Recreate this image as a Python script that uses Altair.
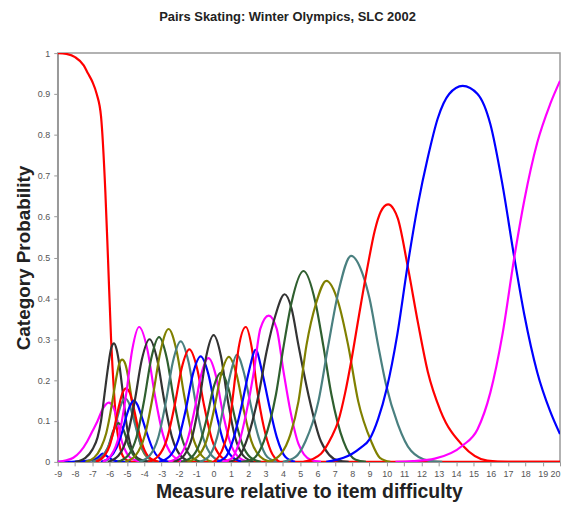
import altair as alt
import pandas as pd

TITLE = "Pairs Skating: Winter Olympics, SLC 2002"
X_TITLE = "Measure relative to item difficulty"
Y_TITLE = "Category Probability"

X_TICKS = list(range(-9, 21))
Y_TICKS = [0, 0.1, 0.2, 0.3, 0.4, 0.5, 0.6, 0.7, 0.8, 0.9, 1]

# colour cycle of the categories (category 0 = red, 1 = blue, ...)
CYCLE = ["#ff0000", "#0000ff", "#ff00ff", "#333333", "#2f5f2f", "#808000", "#4a8080"]

# category probability curves: (x values, probabilities)
c00_x = [-9, -8.5, -8, -7.5, -7.25, -7, -6.75, -6.5, -6.25, -6.1, -5.92, -5.75, -5.63, -5.45, -5.25, -5.0, -4.5, 20]
c00_y = [1.0, 0.998, 0.99, 0.97, 0.95, 0.93, 0.9, 0.845, 0.66, 0.5, 0.3, 0.17, 0.1, 0.045, 0.015, 0.004, 0.0, 0.0]
c01_x = [-9, -8, -7, -6.7, -6.4, -6.1, -5.8, -5.4, -4.8]
c01_y = [0, 0.001, 0.004, 0.01, 0.02, 0.012, 0.004, 0.001, 0]
c02_x = [-9, -8.5, -8.1, -7.7, -7.3, -7.0, -6.7, -6.4, -6.05, -5.8, -5.55, -5.3, -5.0, -4.6, -4.0]
c02_y = [0, 0.004, 0.01, 0.025, 0.05, 0.075, 0.1, 0.13, 0.145, 0.135, 0.1, 0.05, 0.02, 0.005, 0]
c03_x = [-8.0, -7.4, -7.0, -6.7, -6.5, -6.3, -6.1, -5.9, -5.75, -5.6, -5.45, -5.3, -5.1, -4.9, -4.6, -4.2, -3.6]
c03_y = [0, 0.01, 0.03, 0.06, 0.1, 0.165, 0.23, 0.28, 0.29, 0.275, 0.24, 0.19, 0.115, 0.06, 0.02, 0.005, 0]
c04_x = [-7.0, -6.5, -6.1, -5.8, -5.5, -5.2, -4.9, -4.5, -4.0]
c04_y = [0, 0.01, 0.035, 0.075, 0.095, 0.078, 0.04, 0.01, 0]
c05_x = [-7.4, -6.9, -6.5, -6.2, -6.0, -5.8, -5.6, -5.45, -5.28, -5.1, -4.9, -4.7, -4.5, -4.2, -3.8, -3.2]
c05_y = [0, 0.01, 0.035, 0.07, 0.11, 0.16, 0.21, 0.24, 0.25, 0.24, 0.2, 0.145, 0.095, 0.04, 0.01, 0]
c06_x = [-7.0, -6.5, -6.1, -5.8, -5.55, -5.3, -5.1, -4.9, -4.65, -4.4, -4.1, -3.7, -3.2]
c06_y = [0, 0.01, 0.035, 0.07, 0.11, 0.145, 0.155, 0.145, 0.11, 0.07, 0.03, 0.008, 0]
c07_x = [-6.8, -6.3, -6.0, -5.75, -5.5, -5.25, -5.05, -4.85, -4.6, -4.35, -4.05, -3.7, -3.2]
c07_y = [0, 0.015, 0.04, 0.08, 0.13, 0.17, 0.18, 0.17, 0.13, 0.08, 0.035, 0.01, 0]
c08_x = [-6.5, -6.0, -5.6, -5.3, -5.05, -4.8, -4.6, -4.4, -4.15, -3.85, -3.5, -3.1, -2.6]
c08_y = [0, 0.01, 0.035, 0.07, 0.11, 0.14, 0.15, 0.14, 0.11, 0.07, 0.03, 0.008, 0]
c09_x = [-6.4, -5.9, -5.45, -5.05, -4.7, -4.3, -3.82, -3.4, -2.92, -2.4, -1.75]
c09_y = [0, 0.017, 0.066, 0.165, 0.274, 0.33, 0.274, 0.165, 0.066, 0.017, 0]
c10_x = [-6.1, -5.5, -5.0, -4.55, -4.15, -3.7, -3.25, -2.85, -2.4, -1.9, -1.3]
c10_y = [0, 0.015, 0.06, 0.15, 0.249, 0.30, 0.249, 0.15, 0.06, 0.015, 0]
c11_x = [-5.55, -4.95, -4.45, -4.0, -3.6, -3.15, -2.7, -2.3, -1.85, -1.35, -0.75]
c11_y = [0, 0.015, 0.061, 0.153, 0.253, 0.305, 0.253, 0.153, 0.061, 0.015, 0]
c12_x = [-5.1, -4.5, -3.97, -3.5, -3.07, -2.6, -2.13, -1.7, -1.23, -0.7, -0.1]
c12_y = [0, 0.016, 0.065, 0.163, 0.27, 0.325, 0.27, 0.163, 0.065, 0.016, 0]
c13_x = [-4.3, -3.7, -3.2, -2.75, -2.35, -1.9, -1.45, -1.05, -0.6, -0.1, 0.5]
c13_y = [0, 0.015, 0.059, 0.148, 0.245, 0.295, 0.245, 0.148, 0.059, 0.015, 0]
c14_x = [-3.8, -3.2, -2.7, -2.25, -1.85, -1.4, -0.95, -0.55, -0.1, 0.4, 1.0]
c14_y = [0, 0.014, 0.055, 0.138, 0.228, 0.275, 0.228, 0.138, 0.055, 0.014, 0]
c15_x = [-3.15, -2.55, -2.05, -1.6, -1.2, -0.75, -0.3, 0.1, 0.55, 1.05, 1.65]
c15_y = [0, 0.013, 0.052, 0.129, 0.214, 0.258, 0.214, 0.129, 0.052, 0.013, 0]
c16_x = [-2.6, -2.0, -1.53, -1.1, -0.73, -0.3, 0.13, 0.5, 0.93, 1.4, 2.0]
c16_y = [0, 0.013, 0.051, 0.127, 0.211, 0.254, 0.211, 0.127, 0.051, 0.013, 0]
c17_x = [-2.3, -1.7, -1.23, -0.8, -0.43, 0.0, 0.43, 0.8, 1.23, 1.7, 2.3]
c17_y = [0, 0.016, 0.062, 0.155, 0.257, 0.31, 0.257, 0.155, 0.062, 0.016, 0]
c18_x = [-1.88, -1.28, -0.81, -0.38, -0.01, 0.42, 0.85, 1.22, 1.65, 2.12, 2.72]
c18_y = [0, 0.011, 0.044, 0.109, 0.181, 0.218, 0.181, 0.109, 0.044, 0.011, 0]
c19_x = [-1.52, -0.92, -0.42, 0.03, 0.43, 0.88, 1.33, 1.73, 2.18, 2.68, 3.28]
c19_y = [0, 0.013, 0.051, 0.129, 0.213, 0.257, 0.213, 0.129, 0.051, 0.013, 0]
c20_x = [-0.8, -0.3, 0.2, 0.6, 1.0, 1.34, 1.74, 2.14, 2.6, 3.1, 3.7]
c20_y = [0, 0.012, 0.06, 0.14, 0.22, 0.262, 0.22, 0.14, 0.06, 0.012, 0]
c21_x = [0.0, 0.48, 0.88, 1.17, 1.45, 1.86, 2.2, 2.5, 2.9, 3.3, 3.8]
c21_y = [0, 0.027, 0.085, 0.18, 0.28, 0.33, 0.28, 0.18, 0.085, 0.027, 0]
c22_x = [0.2, 0.7, 1.17, 1.63, 2.03, 2.43, 2.8, 3.2, 3.65, 4.15, 4.7]
c22_y = [0, 0.012, 0.06, 0.14, 0.22, 0.274, 0.22, 0.14, 0.06, 0.012, 0]
c23_x = [0.5, 1.0, 1.45, 1.9, 2.32, 2.7, 3.18, 3.64, 4.04, 4.44, 4.9, 5.6, 6.2]
c23_y = [0, 0.007, 0.044, 0.123, 0.22, 0.326, 0.358, 0.326, 0.22, 0.123, 0.044, 0.005, 0]
c24_x = [0.9, 1.45, 2.03, 2.6, 3.06, 3.58, 4.1, 4.5, 4.9, 5.47, 6.2, 7.2, 7.8]
c24_y = [0, 0.012, 0.068, 0.165, 0.27, 0.36, 0.41, 0.375, 0.285, 0.165, 0.05, 0.003, 0]
c25_x = [1.6, 2.2, 2.9, 3.6, 4.05, 4.5, 5.19, 5.88, 6.33, 6.8, 7.5, 8.2, 8.8]
c25_y = [0, 0.005, 0.05, 0.165, 0.285, 0.39, 0.467, 0.39, 0.285, 0.165, 0.05, 0.005, 0]
c26_x = [3.2, 3.9, 4.44, 4.9, 5.36, 5.93, 6.51, 7.2, 7.77, 8.35, 9.1, 9.6, 10.2]
c26_y = [0, 0.02, 0.068, 0.148, 0.285, 0.39, 0.443, 0.39, 0.285, 0.148, 0.05, 0.01, 0]
c27_x = [4.0, 4.73, 5.3, 6.05, 6.62, 7.2, 7.94, 8.6, 9.0, 9.5, 9.95, 10.64, 11.4, 12.4, 13.2]
c27_y = [0, 0.012, 0.05, 0.148, 0.285, 0.415, 0.504, 0.46, 0.4, 0.285, 0.19, 0.092, 0.027, 0.003, 0]
c28_x = [5.2, 6.2, 6.8, 7.2, 7.6, 7.94, 8.4, 8.9, 9.3, 9.65, 10.07, 10.4, 10.64, 11.2, 11.8, 12.37, 13.1, 14.38, 15.8, 17.0, 20]
c28_y = [0, 0.02, 0.06, 0.1, 0.17, 0.245, 0.36, 0.48, 0.565, 0.612, 0.63, 0.618, 0.595, 0.48, 0.34, 0.22, 0.125, 0.04, 0.003, 0, 0]
c29_x = [6.5, 7.5, 8.0, 8.5, 9.0, 9.5, 10.0, 10.6, 11.2, 11.8, 12.37, 12.94, 13.6, 14.38, 15.24, 15.98, 16.67, 17.36, 17.94, 18.68, 19.43, 20]
c29_y = [0, 0.01, 0.02, 0.035, 0.055, 0.105, 0.18, 0.31, 0.48, 0.63, 0.745, 0.84, 0.9, 0.92, 0.9, 0.826, 0.68, 0.5, 0.36, 0.22, 0.124, 0.068]
c30_x = [10.5, 11.5, 12.77, 14.38, 15.24, 15.98, 16.67, 17.36, 17.94, 18.68, 19.43, 20]
c30_y = [0, 0.002, 0.008, 0.04, 0.08, 0.17, 0.31, 0.5, 0.64, 0.78, 0.875, 0.932]

CURVES = [
    (c00_x, c00_y), (c01_x, c01_y), (c02_x, c02_y), (c03_x, c03_y), (c04_x, c04_y),
    (c05_x, c05_y), (c06_x, c06_y), (c07_x, c07_y), (c08_x, c08_y), (c09_x, c09_y),
    (c10_x, c10_y), (c11_x, c11_y), (c12_x, c12_y), (c13_x, c13_y), (c14_x, c14_y),
    (c15_x, c15_y), (c16_x, c16_y), (c17_x, c17_y), (c18_x, c18_y), (c19_x, c19_y),
    (c20_x, c20_y), (c21_x, c21_y), (c22_x, c22_y), (c23_x, c23_y), (c24_x, c24_y),
    (c25_x, c25_y), (c26_x, c26_y), (c27_x, c27_y), (c28_x, c28_y), (c29_x, c29_y),
    (c30_x, c30_y),
]

rows = []
names = []
colors = []
for k, (xs, ys) in enumerate(CURVES):
    name = "c%02d" % k
    names.append(name)
    colors.append(CYCLE[k % len(CYCLE)])
    for i, (x, y) in enumerate(zip(xs, ys)):
        rows.append({"cat": name, "x": x, "p": y, "i": i})
df = pd.DataFrame(rows)

FONT = "Liberation Sans"

chart = (
    alt.Chart(df)
    .mark_line(interpolate="monotone", strokeWidth=2.2, clip=True)
    .encode(
        x=alt.X(
            "x:Q",
            scale=alt.Scale(domain=[-9, 20], nice=False, zero=False),
            axis=alt.Axis(
                values=X_TICKS, title=X_TITLE, labelExpr="toString(datum.value)",
                labelFlush=False, labelOverlap=False,
                labelAlign={"condition": {"test": "datum.value == 20", "value": "right"},
                            "value": "center"},
            ),
        ),
        y=alt.Y(
            "p:Q",
            scale=alt.Scale(domain=[0, 1], nice=False),
            axis=alt.Axis(values=Y_TICKS, title=Y_TITLE, labelExpr="toString(datum.value)"),
        ),
        color=alt.Color("cat:N", scale=alt.Scale(domain=names, range=colors), legend=None),
        order="i:Q",
    )
    .properties(
        width=505,
        height=411,
        title=alt.TitleParams(TITLE, fontSize=13, font=FONT, fontWeight="bold",
                              color="#222222", anchor="middle", frame="bounds", offset=25),
        padding={"left": 6, "top": 2, "right": 0, "bottom": 0},
        background="white",
    )
    .configure_view(stroke="#999999", strokeWidth=1.5)
    .configure_axis(
        grid=False,
        domainColor="#999999",
        domainWidth=1.5,
        tickColor="#999999",
        tickSize=4,
        labelFont=FONT,
        labelFontSize=9,
        labelColor="#555555",
        titleFont=FONT,
        titleFontWeight="bold",
        titleColor="#222222",
    )
    .configure_axisX(labelPadding=4, titlePadding=4, labelAngle=0, titleFontSize=19.5)
    .configure_axisY(labelPadding=4, titlePadding=4, titleFontSize=19)
)

chart.save("out.html", embed_options={"renderer": "svg", "actions": False})
